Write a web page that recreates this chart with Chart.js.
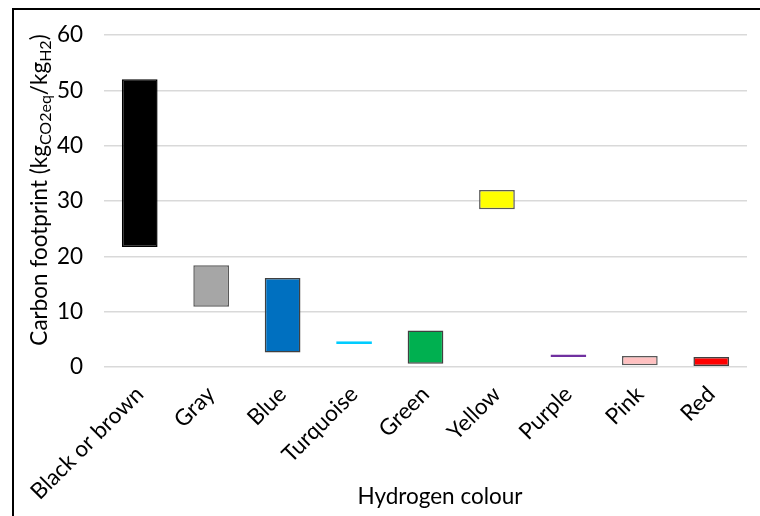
<!DOCTYPE html>
<html>
<head>
<meta charset="utf-8">
<script src="https://cdn.jsdelivr.net/npm/chart.js@4"></script>
<style>
  body { margin: 0; background: #fff; }
  #wrap { position: relative; width: 760px; height: 516px; overflow: hidden; }
  #frame { position: absolute; left: 12px; top: 8px; width: 800px; height: 600px;
           border-left: 2px solid #000; border-top: 2px solid #000; }
  #myChart { position: absolute; left: 0; top: 0; }
</style>
</head>
<body>
<div id="wrap">
  <div id="frame"></div>
  <canvas id="myChart" width="760" height="516"></canvas>
</div>
<script>
// hydrogen colours and the low / high carbon footprint for each
const categories = ['Black or brown', 'Gray', 'Blue', 'Turquoise', 'Green', 'Yellow', 'Purple', 'Pink', 'Red'];
const lowValues  = [21.7, 10.9, 2.6, 4.15, 0.6, 28.5, 1.8, 0.3, 0.2];
const highValues = [52.0, 18.4, 16.1, 4.65, 6.6, 32.0, 2.25, 2.0, 1.8];
const barColours = ['#000000', '#A6A6A6', '#0070C0', '#00CCFF', '#00B050', '#FFFF00', '#7030A0', '#FFC0C0', '#FF0000'];
const edgeColours = ['#000000', '#595959', '#404040', '#00CCFF', '#404040', '#595959', '#7030A0', '#595959', '#404040'];
const yTicks = [0, 10, 20, 30, 40, 50, 60];

const FONT = 'Lato, Calibri, Carlito, sans-serif';
const FSIZE = 22.5;

let ranges = [];
for (let i = 0; i < categories.length; i++) {
    ranges.push([lowValues[i], highValues[i]]);
}

// axis titles drawn by hand: y title has subscripts, x title sits a bit right of centre
const titlePlugin = {
    id: 'axisTitles',
    afterDraw(chart) {
        const ctx = chart.ctx;
        const parts = [
            ['Carbon footprint (kg', false],
            ['CO2eq', true],
            ['/kg', false],
            ['H2', true],
            [')', false]
        ];
        const big = FSIZE + 'px ' + FONT;
        const small = '16px ' + FONT;
        let total = 0;
        parts.forEach(p => {
            ctx.font = p[1] ? small : big;
            total += ctx.measureText(p[0]).width;
        });
        ctx.save();
        ctx.fillStyle = '#000';
        ctx.textBaseline = 'middle';

        ctx.font = big;
        ctx.textAlign = 'center';
        ctx.fillText('Hydrogen colour', 440, 497);

        ctx.textAlign = 'left';
        ctx.translate(40, 190);
        ctx.rotate(-Math.PI / 2);
        let x = -total / 2;
        parts.forEach(p => {
            ctx.font = p[1] ? small : big;
            ctx.fillText(p[0], x, p[1] ? 6 : 0);
            x += ctx.measureText(p[0]).width;
        });
        ctx.restore();
    }
};

const config = {
    type: 'bar',
    data: {
        labels: categories,
        datasets: [{
            data: ranges,
            backgroundColor: barColours,
            borderColor: edgeColours,
            borderWidth: 1.5,
            borderSkipped: false,
            barPercentage: 0.5,
            categoryPercentage: 1.0
        }]
    },
    options: {
        responsive: false,
        animation: false,
        layout: { padding: { left: 0, right: 13, top: 35, bottom: 0 } },
        plugins: {
            legend: { display: false },
            tooltip: { enabled: false }
        },
        scales: {
            x: {
                grid: { display: false, drawTicks: false },
                border: { display: false },
                ticks: {
                    color: '#000',
                    font: { family: FONT, size: FSIZE },
                    minRotation: 45,
                    maxRotation: 45,
                    padding: 14
                },
                afterFit(scale) { scale.height = 149; }
            },
            y: {
                min: 0,
                max: 60,
                afterBuildTicks(scale) {
                    scale.ticks = yTicks.map(v => ({ value: v }));
                },
                grid: { color: '#D9D9D9', lineWidth: 1.5, drawTicks: false },
                border: { display: false },
                ticks: {
                    color: '#000',
                    font: { family: FONT, size: FSIZE },
                    padding: 21
                },
                afterFit(scale) { scale.width = 104; }
            }
        }
    },
    plugins: [titlePlugin]
};

const myChart = new Chart(document.getElementById('myChart').getContext('2d'), config);
</script>
</body>
</html>
